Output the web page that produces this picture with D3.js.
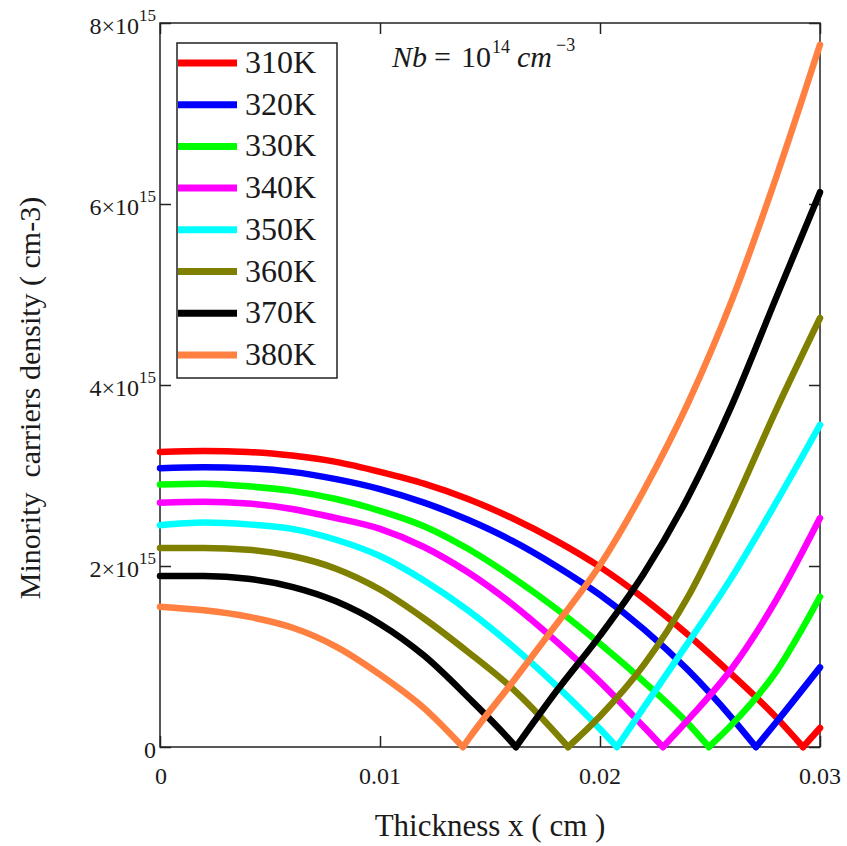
<!DOCTYPE html>
<html>
<head>
<meta charset="utf-8">
<script src="https://cdn.jsdelivr.net/npm/d3@7/dist/d3.min.js"></script>
<style>
    body { margin: 0; background: #fff; }
    text { font-family: "Liberation Serif", "Times New Roman", serif; fill: #1a1a1a; }
</style>
</head>
<body>
<script>
// thickness grid (cm) and minority carrier densities (units of 1e15 cm^-3)
var thickness = [0, 0.002, 0.004, 0.006, 0.008, 0.010, 0.012, 0.014, 0.016, 0.018, 0.020, 0.022, 0.024, 0.026, 0.028, 0.030];
var temperatures = ["310K", "320K", "330K", "340K", "350K", "360K", "370K", "380K"];
var n310 = [3.26, 3.27, 3.26, 3.22, 3.15, 3.04, 2.91, 2.74, 2.53, 2.28, 1.99, 1.64, 1.24, 0.80, 0.33, 0.21];
var n320 = [3.08, 3.09, 3.08, 3.04, 2.96, 2.85, 2.70, 2.51, 2.28, 2.00, 1.68, 1.30, 0.85, 0.32, 0.27, 0.88];
var n330 = [2.90, 2.91, 2.88, 2.83, 2.74, 2.61, 2.44, 2.19, 1.88, 1.53, 1.14, 0.72, 0.26, 0.25, 0.83, 1.66];
var n340 = [2.70, 2.71, 2.69, 2.63, 2.53, 2.41, 2.21, 1.93, 1.58, 1.17, 0.72, 0.22, 0.30, 0.87, 1.62, 2.53];
var n350 = [2.45, 2.48, 2.46, 2.41, 2.29, 2.11, 1.84, 1.51, 1.12, 0.68, 0.20, 0.44, 1.15, 1.88, 2.70, 3.56];
var n360 = [2.20, 2.20, 2.18, 2.11, 1.97, 1.74, 1.42, 1.05, 0.65, 0.15, 0.34, 0.91, 1.66, 2.64, 3.72, 4.74];
var n370 = [1.89, 1.89, 1.86, 1.77, 1.61, 1.36, 1.01, 0.55, 0.05, 0.61, 1.23, 1.92, 2.76, 3.78, 4.96, 6.13];
var n380 = [1.55, 1.51, 1.44, 1.32, 1.11, 0.80, 0.43, 0.08, 0.71, 1.35, 2.01, 2.84, 3.80, 4.94, 6.29, 7.76];
// thickness where each curve touches zero (cm)
var zeroCross = [0.02923, 0.02709, 0.02495, 0.02286, 0.02077, 0.01855, 0.01618, 0.01377];
var yTicks = [0, 2, 4, 6, 8];
var xTicks = [0, 0.01, 0.02, 0.03];
var xTickLabels = ["0", "0.01", "0.02", "0.03"];

var seriesValues = [n310, n320, n330, n340, n350, n360, n370, n380];
var colors = ["#ff0000", "#0000ff", "#00ff00", "#ff00ff", "#00ffff", "#808000", "#000000", "#ff8040"];
var serif = "'Liberation Serif', 'Times New Roman', serif";

var margin = { top: 23, right: 27, bottom: 99, left: 160 },
    width = 847 - margin.left - margin.right,
    height = 846 - margin.top - margin.bottom;

var x = d3.scaleLinear().domain([0, 0.03]).range([0, width]);
var y = d3.scaleLinear().domain([0, 8]).range([height, 0]);

var svg = d3.select("body")
    .append("svg")
    .attr("width", 847)
    .attr("height", 846)
    .attr("font-family", serif);

var g = svg.append("g")
    .attr("transform", "translate(" + margin.left + "," + margin.top + ")");

// frame
g.append("rect")
    .attr("width", width)
    .attr("height", height)
    .attr("fill", "none")
    .attr("stroke", "#222")
    .attr("stroke-width", 1.5);

// inward ticks on all four sides
function ticks(axis) {
    return axis.tickSizeInner(-11).tickSizeOuter(0).tickFormat("");
}
g.append("g").attr("transform", "translate(0," + height + ")").call(ticks(d3.axisBottom(x).tickValues(xTicks)));
g.append("g").call(ticks(d3.axisTop(x).tickValues(xTicks)));
g.append("g").call(ticks(d3.axisLeft(y).tickValues(yTicks)));
g.append("g").attr("transform", "translate(" + width + ",0)").call(ticks(d3.axisRight(y).tickValues(yTicks)));
g.selectAll(".domain").remove();
g.selectAll(".tick line").attr("stroke", "#222").attr("stroke-width", 1.5);

// y tick labels  n×10^15
yTicks.forEach(function (t) {
    var lab = g.append("text")
        .attr("x", -4)
        .attr("y", y(t) + 11)
        .attr("text-anchor", "end")
        .attr("font-family", serif)
        .style("font-size", "24px");
    if (t === 0) {
        lab.text("0");
    } else {
        lab.append("tspan").text(t + "\u00d710");
        lab.append("tspan").attr("dy", -13).style("font-size", "17px").text("15");
    }
});

// x tick labels
xTicks.forEach(function (t, i) {
    g.append("text")
        .attr("x", x(t) + (i === 0 ? 1 : 0))
        .attr("y", height + 37)
        .attr("text-anchor", "middle")
        .attr("font-family", serif)
        .style("font-size", "24px")
        .text(xTickLabels[i]);
});

// axis titles
svg.append("text")
    .attr("x", 490)
    .attr("y", 836)
    .attr("text-anchor", "middle")
    .attr("font-family", serif)
    .style("font-size", "31px")
    .text("Thickness x ( cm )");

svg.append("text")
    .attr("transform", "translate(40,398) rotate(-90)")
    .attr("text-anchor", "middle")
    .attr("font-family", serif)
    .style("font-size", "30px")
    .style("white-space", "pre")
    .text("Minority  carriers density ( cm-3)");

// curves: each one is split at its zero so the V stays sharp
var line = d3.line()
    .x(function (d) { return x(d[0]); })
    .y(function (d) { return y(d[1]); })
    .curve(d3.curveMonotoneX);

seriesValues.forEach(function (vals, k) {
    var z = zeroCross[k];
    var pts = thickness.map(function (t, i) { return [t, vals[i]]; });
    var left = pts.filter(function (p) { return p[0] < z; }).concat([[z, 0]]);
    var right = [[z, 0]].concat(pts.filter(function (p) { return p[0] > z; }));
    [left, right].forEach(function (seg) {
        g.append("path")
            .datum(seg)
            .attr("d", line)
            .attr("fill", "none")
            .attr("stroke", colors[k])
            .attr("stroke-width", 6.5)
            .attr("stroke-linejoin", "round")
            .attr("stroke-linecap", "round");
    });
});

// legend
var legend = svg.append("g");
legend.append("rect")
    .attr("x", 177)
    .attr("y", 43)
    .attr("width", 160)
    .attr("height", 335)
    .attr("fill", "#fff")
    .attr("stroke", "#222")
    .attr("stroke-width", 1.5);

temperatures.forEach(function (name, i) {
    var ly = 63 + i * 41.7;
    legend.append("line")
        .attr("x1", 178).attr("x2", 237)
        .attr("y1", ly).attr("y2", ly)
        .attr("stroke", colors[i])
        .attr("stroke-width", 7);
    legend.append("text")
        .attr("x", 245)
        .attr("y", ly + 10)
        .attr("font-family", serif)
        .style("font-size", "32px")
        .text(name);
});

// annotation  Nb = 10^14 cm^-3
var note = svg.append("text")
    .attr("y", 67)
    .attr("font-family", serif)
    .style("font-size", "30px");
note.append("tspan").attr("x", 392).style("font-style", "italic").text("Nb");
note.append("tspan").attr("x", 434).text("=");
note.append("tspan").attr("x", 461).text("10");
note.append("tspan").attr("x", 492).attr("dy", -14).style("font-size", "18px").text("14");
note.append("tspan").attr("x", 517).attr("dy", 14).style("font-style", "italic").text("cm");
note.append("tspan").attr("x", 556).attr("dy", -16).style("font-size", "18px").text("\u22123");
</script>
</body>
</html>
